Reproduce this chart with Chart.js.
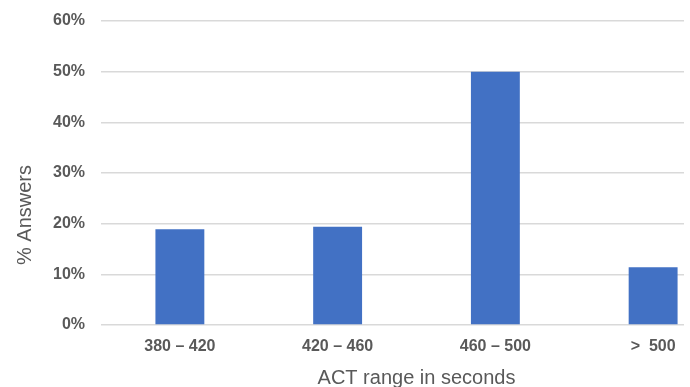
<!DOCTYPE html>
<html>
<head>
<meta charset="utf-8">
<script src="https://cdn.jsdelivr.net/npm/chart.js@4"></script>
<style>
  html, body { margin: 0; padding: 0; background: #fff; overflow: hidden; }
  #wrap { width: 740px; height: 390px; }
</style>
</head>
<body>
<div id="wrap"><canvas id="myChart"></canvas></div>
<script>
const labels = ["380 \u2013 420", "420 \u2013 460", "460 \u2013 500", ">  500"];
const answers = [18.9, 19.4, 50, 11.4];
const yTicks = [0, 10, 20, 30, 40, 50, 60];

const textColor = "#595959";
const fontFamily = "'Liberation Sans', Arial, sans-serif";

// rotated y axis title, drawn by hand so it can sit lower than the axis centre
const sideTitle = {
    id: "sideTitle",
    afterDraw(chart) {
        const ctx = chart.ctx;
        ctx.save();
        ctx.translate(25, 215);
        ctx.rotate(-Math.PI / 2);
        ctx.font = "20px " + fontFamily;
        ctx.fillStyle = textColor;
        ctx.textAlign = "center";
        ctx.textBaseline = "middle";
        ctx.fillText("% Answers", 0, 0);
        ctx.restore();
    },
};

// the plot is cut off on the right, gridlines stop short of the edge
const rightCut = {
    id: "rightCut",
    beforeDraw(chart) {
        const ctx = chart.ctx;
        ctx.save();
        ctx.beginPath();
        ctx.rect(0, 0, 684, chart.height);
        ctx.clip();
    },
    afterDraw(chart) {
        chart.ctx.restore();
    },
};

const data = {
    labels: labels,
    datasets: [
        {
            label: "% Answers",
            backgroundColor: "#4271c4",
            borderWidth: 0,
            data: answers,
            barPercentage: 0.31,
            categoryPercentage: 1,
        },
    ],
};

const config = {
    type: "bar",
    data: data,
    plugins: [rightCut, sideTitle],
    options: {
        responsive: true,
        maintainAspectRatio: false,
        animation: false,
        layout: { padding: { top: 21, right: 8, left: 0, bottom: 0 } },
        plugins: {
            legend: { display: false },
            tooltip: { enabled: false },
        },
        scales: {
            x: {
                afterFit(scale) {
                    scale.height = 65;
                },
                grid: { display: false, drawTicks: false },
                border: { display: false },
                ticks: {
                    color: textColor,
                    padding: 12,
                    maxRotation: 0,
                    font: { family: fontFamily, size: 16, weight: "bold" },
                },
                title: {
                    display: true,
                    text: "ACT range in seconds",
                    color: textColor,
                    padding: { top: 10, bottom: 0 },
                    font: { family: fontFamily, size: 20 },
                },
            },
            y: {
                min: yTicks[0],
                max: yTicks[yTicks.length - 1],
                afterFit(scale) {
                    scale.width = 101;
                    scale.paddingTop = 0;
                },
                afterBuildTicks(scale) {
                    scale.ticks = yTicks.map((v) => ({ value: v }));
                },
                grid: { color: "#d9d9d9", lineWidth: 1.5, drawTicks: false },
                border: { display: false },
                ticks: {
                    color: textColor,
                    padding: 16,
                    font: { family: fontFamily, size: 16, weight: "bold" },
                    callback: (v) => v + "%",
                },
            },
        },
    },
};

const myChart = new Chart(document.getElementById("myChart"), config);
</script>
</body>
</html>
